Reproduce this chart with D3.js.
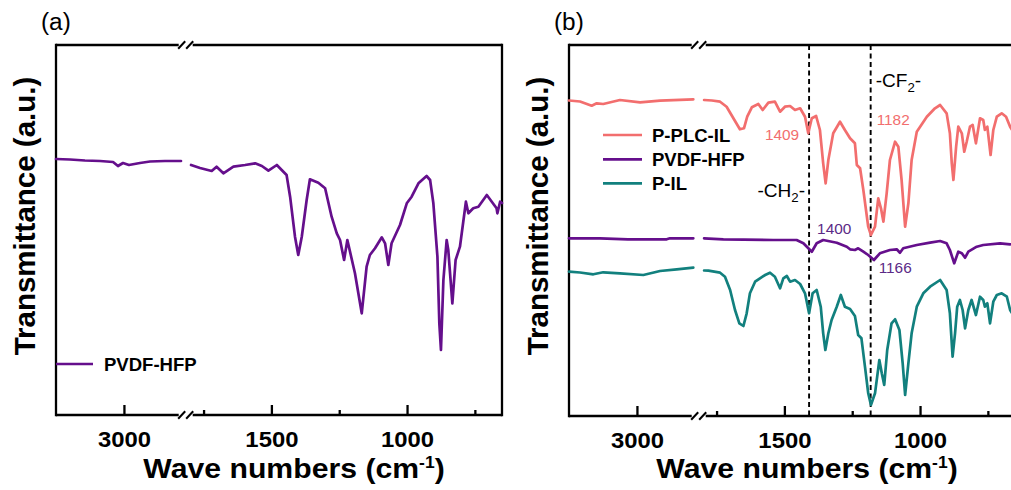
<!DOCTYPE html>
<html><head><meta charset="utf-8">
<script src="https://cdn.jsdelivr.net/npm/d3@7"></script>
<style>body{margin:0;background:#fff} svg{display:block} text{font-family:"Liberation Sans",Arial,sans-serif}</style>
</head><body><svg id="c" width="1011" height="490"></svg>
<script>
// ---------------- data ----------------
const hiDomain = [3500, 2580];   // high-wavenumber segment (left of break)
const loDomain = [1800, 650];    // low-wavenumber segment (right of break)
const majorTicks = [3000, 1500, 1000];
const minorTicks = [1750, 1250, 750];
const tickLabels = ["3000", "1500", "1000"];

// Panel (a): PVDF-HFP
const a_pvdf_wn = [3500,3397,3287,3176,3080,3044,3007,2963,2882,2808,2698,2580,
  1796,1763,1720,1702,1677,1640,1597,1560,1535,1511,1480,1462,1444,1431,1413,1401,1388,1370,1358,1327,
  1302,1278,1259,1247,1232,1220,1192,1167,1149,1137,1118,1093,1081,1069,1057,1026,1001,983,958,928,
  915,903,888,881,875,866,854,848,833,821,805,783,774,756,737,706,670,667,657,650];
const a_pvdf_t = [25.6,25.55,25.45,25.4,25.3,24.9,25.2,25.0,25.2,25.35,25.4,25.4,
  25.0,24.7,24.4,24.83,24.17,24.83,25.0,25.17,24.9,24.43,25.0,24.5,24.0,21.83,17.83,16.0,17.83,21.5,23.57,23.23,
  22.67,19.83,18.17,17.5,15.5,17.5,14.17,10.17,14.83,16.0,16.67,17.77,17.17,15.0,17.17,19.0,21.17,21.83,23.17,23.9,
  23.5,21.17,15.83,9.17,6.5,13.5,17.5,16.5,11.17,15.5,16.83,21.33,20.17,20.67,20.83,22.0,20.67,20.17,21.33,21.2];

// Panel (b): P-PLC-IL
const b_plc_wn = [3500,3419,3333,3296,3248,3125,2977,2830,2585,
  1796,1767,1737,1713,1688,1664,1649,1637,1620,1596,1580,1559,1535,1516,1498,1479,1461,1442,1424,1412,
  1399,1383,1369,1357,1348,1338,1320,1295,1277,1258,1240,1233,1221,1209,1191,1181,1166,1154,1144,1135,
  1123,1111,1092,1080,1068,1055,1043,1031,1012,975,945,926,902,890,883,877,867,859,846,837,
  828,816,806,794,779,767,761,752,740,730,717,699,683,668,650];
const b_plc_t = [31.55,31.45,31.03,31.27,31.2,31.6,31.37,31.53,31.67,
  31.6,31.55,31.43,30.93,29.77,28.67,28.77,29.93,30.87,31.2,30.6,31.33,31.43,30.43,30.93,31.0,30.6,30.77,29.93,28.27,
  29.77,30.0,28.6,25.27,23.27,25.6,28.27,29.43,28.6,27.77,27.27,25.1,24.77,22.6,18.93,18.1,18.93,21.77,20.77,19.43,
  22.27,25.6,27.43,26.93,23.6,18.93,21.27,25.6,28.43,29.93,30.77,31.1,30.27,28.27,25.27,23.6,26.93,28.93,28.27,26.43,
  27.43,28.93,29.1,27.27,29.77,29.6,28.6,28.93,26.1,28.6,29.93,30.27,29.93,28.93,28.1];

// Panel (b): PVDF-HFP
const b_pvdf_wn = [3500,3272,3066,2781,2757,2585,
  1796,1725,1541,1455,1430,1399,1381,1357,1307,1270,1258,1240,1228,1209,1191,1170,1148,1111,1086,1074,
  1062,1012,963,926,902,890,874,859,846,834,822,791,767,705,668,650];
const b_pvdf_t = [17.77,17.77,17.67,17.67,17.77,17.77,
  17.77,17.67,17.6,17.6,17.27,16.43,17.27,17.6,17.33,16.93,16.67,16.6,16.77,16.43,16.1,15.6,16.27,16.6,16.67,16.33,
  16.77,17.1,17.33,17.5,17.27,16.6,15.27,16.43,16.27,15.83,16.43,16.93,17.1,17.27,17.17,17.2];

// Panel (b): P-IL
const b_pil_wn = [3500,3419,3321,3248,3125,2953,2830,2707,2585,
  1796,1780,1737,1719,1700,1682,1666,1651,1639,1627,1608,1590,1571,1553,1535,1516,1504,1491,1479,1461,
  1442,1424,1409,1396,1381,1366,1357,1349,1338,1326,1307,1292,1277,1258,1240,1228,1216,1203,1191,1181,
  1166,1150,1141,1132,1121,1105,1092,1076,1064,1055,1043,1031,1012,988,963,926,902,890,880,871,
  863,853,843,834,822,810,794,779,767,761,752,742,730,717,699,680,668,650];
const b_pil_t = [14.43,14.35,14.17,14.37,14.27,14.1,14.5,14.67,14.83,
  14.55,14.53,14.33,13.93,12.6,10.6,9.27,9.0,10.27,12.27,13.43,13.77,14.1,14.33,13.93,12.77,13.77,14.0,13.43,13.6,
  13.2,12.27,10.27,12.27,12.6,10.93,8.27,6.6,8.27,9.6,10.93,12.1,10.93,10.7,10.0,8.1,7.77,4.93,2.27,1.1,
  2.27,5.6,4.27,3.1,6.6,9.27,9.67,8.6,5.27,2.1,5.27,8.27,10.93,12.27,12.93,13.6,12.6,10.27,5.93,8.27,
  10.93,11.6,10.6,8.77,10.6,11.6,10.1,11.93,11.6,10.93,11.27,9.27,11.43,12.1,12.27,11.93,10.6,9.8];

const legendA = ["PVDF-HFP"];
const legendB = ["P-PLC-IL", "PVDF-HFP", "P-IL"];
const markedWn = [1409, 1182];

// ---------------- drawing ----------------
const COL = {plc: "#f26e6e", pvdf: "#650f8c", pil: "#12807e", pvdfText: "#5b2a86"};
const SX = 1.06;            // slight horizontal stretch of the lettering
const svg = d3.select("#c");

function stext(g, x, y, str, size, weight, anchor, fill) {
  return g.append("text")
    .attr("transform", `translate(${x},${y}) scale(${SX},1)`)
    .attr("font-size", size).attr("font-weight", weight || "normal")
    .attr("text-anchor", anchor || "start").attr("fill", fill || "#000")
    .text(str);
}

function makePanel(left, top, bottom, yMax, label) {
  const g = svg.append("g").attr("transform", `translate(${left},0)`);
  const xHi = d3.scaleLinear().domain(hiDomain).range([0, 125]);
  const xLo = d3.scaleLinear().domain(loDomain).range([134, 446]);
  const y = d3.scaleLinear().domain([0, yMax]).range([bottom, top]);
  const X = wn => (wn > 2200 ? xHi(wn) : xLo(wn));
  const P = {g, xHi, xLo, y, X, top, bottom};

  // frame with axis breaks
  const bc = 129.7, fw = 2.3;
  const fr = g.append("g").attr("stroke", "#000").attr("stroke-width", fw).attr("fill", "none");
  fr.append("line").attr("x1", 0).attr("x2", 0).attr("y1", top - fw/2).attr("y2", bottom + fw/2);
  fr.append("line").attr("x1", 446).attr("x2", 446).attr("y1", top - fw/2).attr("y2", bottom + fw/2);
  [top, bottom].forEach(yy => {
    fr.append("line").attr("x1", 0).attr("x2", bc - 7).attr("y1", yy).attr("y2", yy);
    fr.append("line").attr("x1", bc + 7).attr("x2", 446).attr("y1", yy).attr("y2", yy);
    [-4, 4].forEach(d => {
      fr.append("line").attr("stroke-width", 2)
        .attr("x1", bc + d - 3.5).attr("y1", yy + 3.8)
        .attr("x2", bc + d + 3.5).attr("y2", yy - 3.8);
    });
  });

  // ticks (inward) via d3 axes
  const axHi = d3.axisBottom(xHi).tickValues(majorTicks.filter(t => t > 2200))
    .tickSize(-10).tickPadding(16).tickFormat(d => tickLabels[majorTicks.indexOf(d)]);
  const axLo = d3.axisBottom(xLo).tickValues(majorTicks.filter(t => t < 2200))
    .tickSize(-10).tickPadding(16).tickFormat(d => tickLabels[majorTicks.indexOf(d)]);
  const axMin = d3.axisBottom(xLo).tickValues(minorTicks).tickSize(-5).tickFormat("");
  [axHi, axLo, axMin].forEach(ax => {
    const a = g.append("g").attr("transform", `translate(0,${bottom})`).call(ax);
    a.select(".domain").remove();
    a.selectAll("line").attr("stroke", "#000").attr("stroke-width", 2.3);
    a.selectAll("text").attr("font-size", 22.5).attr("font-weight", "bold").attr("fill", "#000")
      .attr("font-family", '"Liberation Sans",Arial,sans-serif')
      .attr("transform", `scale(${SX},1)`);
  });

  // axis titles
  const xt = g.append("text")
    .attr("transform", `translate(238,478) scale(${SX},1)`)
    .attr("text-anchor", "middle").attr("font-size", 28.5).attr("font-weight", "bold");
  xt.append("tspan").text("Wave numbers (cm");
  xt.append("tspan").attr("dy", -10).attr("font-size", 16.5).text("-1");
  xt.append("tspan").attr("dy", 10).text(")");

  g.append("text").attr("transform", `translate(-21,216) rotate(-90)`)
    .attr("text-anchor", "middle").attr("font-size", 29.5).attr("font-weight", "bold")
    .text("Transmittance (a.u.)");

  stext(g, -15, 30, label, 23, "normal", "start");
  return P;
}

function drawSeries(P, wn, t, color) {
  const pts = wn.map((w, i) => [w, t[i]]);
  const line = d3.line().x(d => P.X(d[0])).y(d => P.y(d[1])).curve(d3.curveLinear);
  [pts.filter(d => d[0] > 2200), pts.filter(d => d[0] < 2200)].forEach(seg => {
    P.g.append("path").datum(seg).attr("d", line)
      .attr("fill", "none").attr("stroke", color).attr("stroke-width", 2.7)
      .attr("stroke-linejoin", "round").attr("stroke-linecap", "round");
  });
}

// Panel (a)
const A = makePanel(56, 45, 415, 37, "(a)");
drawSeries(A, a_pvdf_wn, a_pvdf_t, COL.pvdf);
A.g.append("line").attr("x1", 0).attr("x2", 37).attr("y1", 364).attr("y2", 364)
  .attr("stroke", COL.pvdf).attr("stroke-width", 2.7);
stext(A.g, 48, 370.5, legendA[0], 17.5, "bold");

// Panel (b)
const B = makePanel(569, 45, 416, 37.1, "(b)");
// dashed marker lines
markedWn.forEach(w => {
  B.g.append("line").attr("x1", B.X(w)).attr("x2", B.X(w)).attr("y1", B.top).attr("y2", B.bottom)
    .attr("stroke", "#000").attr("stroke-width", 1.9).attr("stroke-dasharray", "5,3.5");
});
drawSeries(B, b_plc_wn, b_plc_t, COL.plc);
drawSeries(B, b_pvdf_wn, b_pvdf_t, COL.pvdf);
drawSeries(B, b_pil_wn, b_pil_t, COL.pil);

const legCols = [COL.plc, COL.pvdf, COL.pil];
const legY = [135, 159.3, 183.3];
legendB.forEach((name, i) => {
  B.g.append("line").attr("x1", 34).attr("x2", 73).attr("y1", legY[i]).attr("y2", legY[i])
    .attr("stroke", legCols[i]).attr("stroke-width", 2.7);
  stext(B.g, 83, legY[i] + 6.5, name, 17.5, "bold");
});

// annotations
const bx = B.X;
stext(B.g, bx(1409) - 10, 140, "1409", 14.5, "normal", "end", COL.plc);
stext(B.g, bx(1182) + 6, 124.5, "1182", 14.5, "normal", "start", COL.plc);
stext(B.g, bx(1409) + 8, 233.5, "1400", 14.5, "normal", "start", COL.pvdfText);
stext(B.g, bx(1182) + 8, 273, "1166", 14.5, "normal", "start", COL.pvdfText);

const cf = B.g.append("text").attr("transform", `translate(${bx(1182) + 5},86.5) scale(${SX},1)`)
  .attr("font-size", 18);
cf.append("tspan").text("-CF");
cf.append("tspan").attr("dy", 5).attr("font-size", 12.5).text("2");
cf.append("tspan").attr("dy", -5).text("-");

const ch = B.g.append("text").attr("transform", `translate(${bx(1409) - 4},196.5) scale(${SX},1)`)
  .attr("font-size", 18).attr("text-anchor", "end");
ch.append("tspan").text("-CH");
ch.append("tspan").attr("dy", 5).attr("font-size", 12.5).text("2");
ch.append("tspan").attr("dy", -5).text("-");
</script>
</body></html>
